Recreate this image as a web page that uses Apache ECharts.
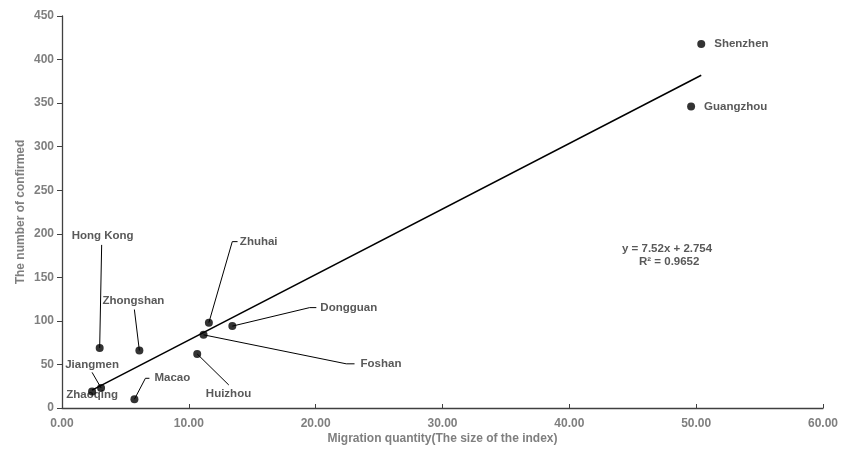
<!DOCTYPE html>
<html>
<head>
<meta charset="utf-8">
<script src="https://cdn.jsdelivr.net/npm/echarts@6/dist/echarts.min.js"></script>
<style>html,body{margin:0;padding:0;background:#fff}#c{width:841px;height:451px}</style>
</head>
<body>
<div id="c"></div>
<script>
// ---- data ----
var cities    = ['Shenzhen','Guangzhou','Hong Kong','Zhongshan','Zhuhai','Dongguan','Foshan','Huizhou','Jiangmen','Zhaoqing','Macao'];
var migration = [50.4, 49.6, 2.97, 6.1, 11.58, 13.43, 11.16, 10.66, 3.08, 2.37, 5.71];
var confirmed = [418, 346, 69, 66, 98, 94, 84, 62, 23, 19, 10];
var trendX = [2.37, 50.4];
var trendY = [20.6, 382];
var equationText = ['y = 7.52x + 2.754', 'R\u00B2 = 0.9652'];

// ---- label layout (pixel offsets from each point) ----
var labelLayout = {
  'Shenzhen':  {t:[13,0], align:'left', line:null},
  'Guangzhou': {t:[13,0], align:'left', line:null},
  'Hong Kong': {t:[3,-112], align:'center', line:[[2,-103]]},
  'Zhongshan': {t:[-6,-50], align:'center', line:[[-5,-41]]},
  'Zhuhai':    {t:[31,-81], align:'left', line:[[23.4,-81],[28.7,-81]]},
  'Dongguan':  {t:[88,-18.5], align:'left', line:[[77.3,-18.5],[84,-18.5]]},
  'Foshan':    {t:[157,29], align:'left', line:[[142.7,29],[151,29]]},
  'Huizhou':   {t:[31.3,40], align:'center', line:[[31.6,31]]},
  'Jiangmen':  {t:[-9,-23.5], align:'center', line:[[-9,-15.6]]},
  'Zhaoqing':  {t:[0,3], align:'center', line:null},
  'Macao':     {t:[20,-21], align:'left', line:[[11,-21],[15,-21]]}
};

var pts = cities.map(function(c, i){ return [migration[i], confirmed[i], c]; });
var trend = trendX.map(function(x, i){ return [x, trendY[i]]; });

var labelColor = '#595959';
var axisTextColor = '#7f7f7f';
var font = '"Liberation Sans", Arial, sans-serif';

var chart = echarts.init(document.getElementById('c'), null, {renderer:'canvas'});
chart.setOption({
  animation: false,
  backgroundColor: '#fff',
  grid: {left: 62, right: 18, top: 16, bottom: 43, containLabel: false, outerBoundsMode: 'none'},
  xAxis: {
    type: 'value', min: 0, max: 60, interval: 10,
    name: 'Migration quantity(The size of the index)',
    nameLocation: 'middle', nameGap: 25, nameMoveOverlap: false,
    nameTextStyle: {color: axisTextColor, fontWeight: 'bold', fontSize: 12, fontFamily: font},
    axisLine: {show: true, lineStyle: {color: '#404040', width: 1.3}},
    axisTick: {show: true, inside: true, length: 4, lineStyle: {color: '#404040'}},
    axisLabel: {color: axisTextColor, fontWeight: 'bold', fontSize: 12, fontFamily: font, margin: 10,
      formatter: function(v){ return v.toFixed(2); }},
    splitLine: {show: false}
  },
  yAxis: {
    type: 'value', min: 0, max: 450, interval: 50,
    name: 'The number of confirmed',
    nameLocation: 'middle', nameGap: 35, nameMoveOverlap: false,
    nameTextStyle: {color: axisTextColor, fontWeight: 'bold', fontSize: 12, fontFamily: font},
    axisLine: {show: true, lineStyle: {color: '#404040', width: 1.3}},
    axisTick: {show: true, inside: false, length: 5, lineStyle: {color: '#404040'}},
    axisLabel: {color: axisTextColor, fontWeight: 'bold', fontSize: 12, fontFamily: font, margin: 8},
    splitLine: {show: false}
  },
  graphic: [
    {type: 'text', left: 622, top: 243, style: {text: equationText[0], fill: labelColor, font: 'bold 11.5px ' + font}},
    {type: 'text', left: 639, top: 256, style: {text: equationText[1], fill: labelColor, font: 'bold 11.5px ' + font}}
  ],
  series: [
    {
      type: 'line', data: trend, showSymbol: false, symbol: 'none',
      lineStyle: {color: '#000', width: 1.5}, z: 2, silent: true
    },
    {
      type: 'custom', z: 3, silent: true,
      data: pts,
      renderItem: function(params, api){
        var name = cities[params.dataIndex];
        var L = labelLayout[name];
        var p = api.coord([api.value(0), api.value(1)]);
        var children = [];
        if (L.line) {
          var points = [[p[0], p[1]]].concat(L.line.map(function(o){ return [p[0]+o[0], p[1]+o[1]]; }));
          children.push({type: 'polyline', shape: {points: points},
            style: {stroke: '#000', lineWidth: 1, fill: null}});
        }
        children.push({type: 'text', x: p[0]+L.t[0], y: p[1]+L.t[1],
          style: {text: name, fill: labelColor, font: 'bold 11.5px ' + font,
            align: L.align, verticalAlign: 'middle'}});
        return {type: 'group', children: children};
      }
    },
    {
      type: 'scatter', data: pts, symbol: 'circle', symbolSize: 8,
      itemStyle: {color: '#000'}, z: 4, silent: true
    }
  ]
});
</script>
</body>
</html>
